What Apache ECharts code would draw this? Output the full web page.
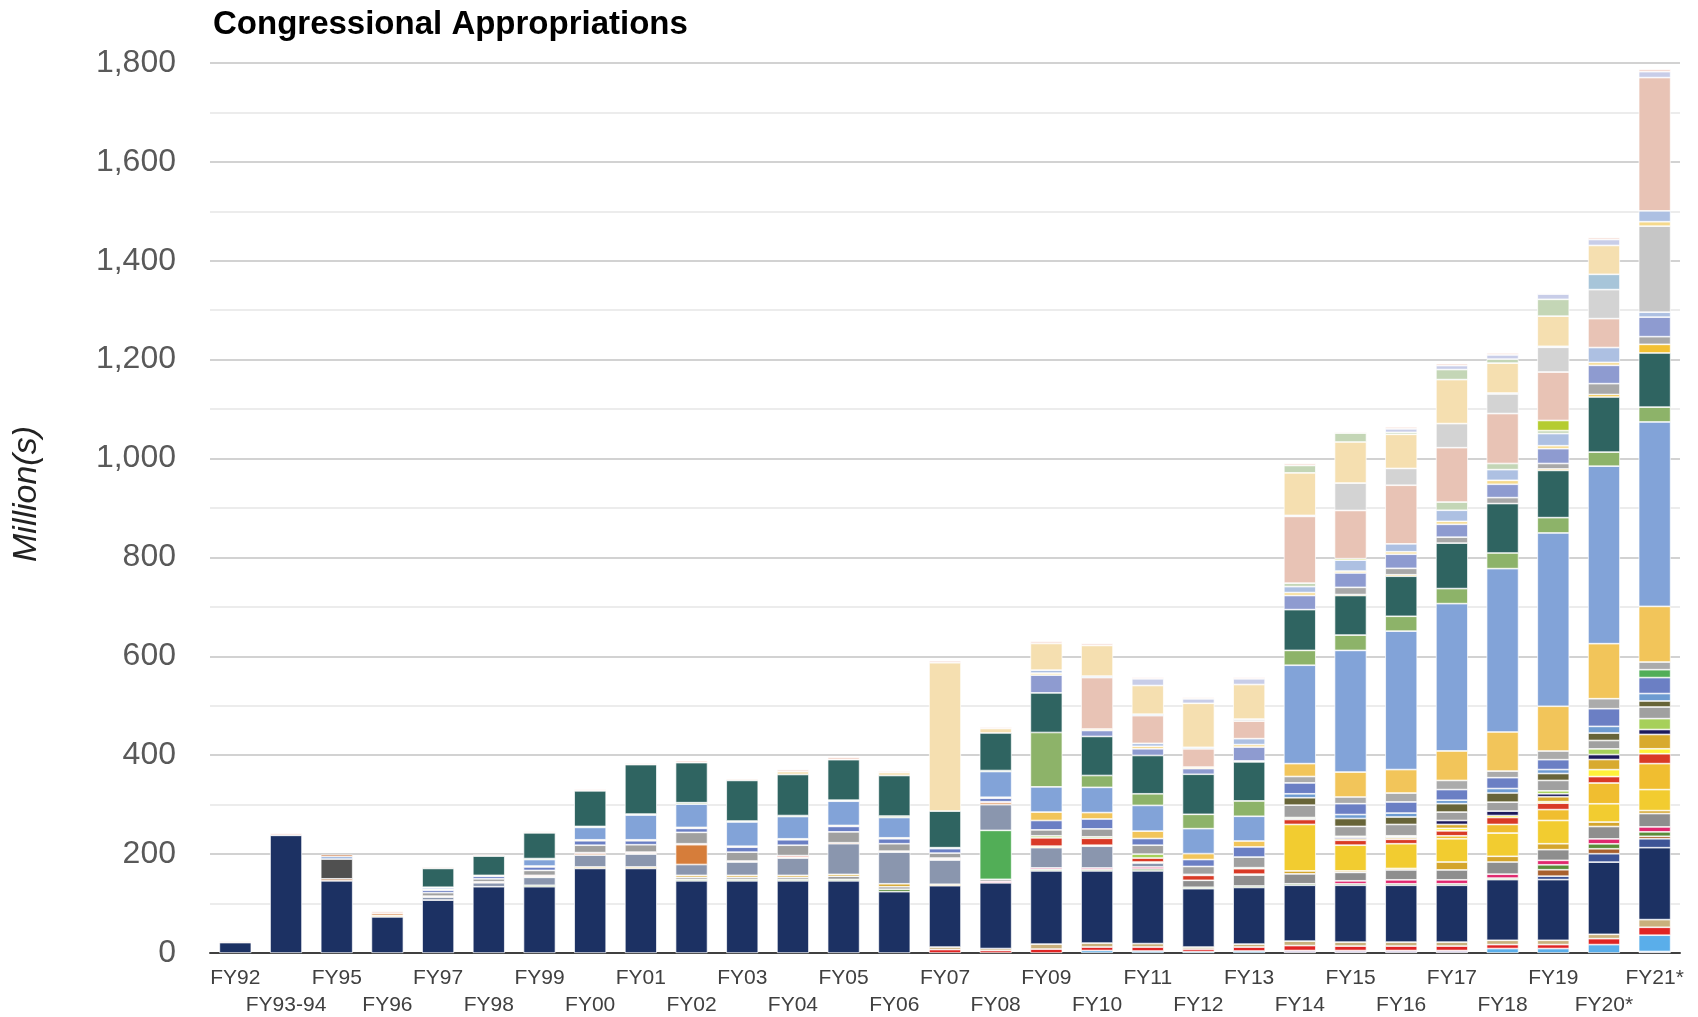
<!DOCTYPE html>
<html>
<head>
<meta charset="utf-8">
<script src="https://cdn.jsdelivr.net/npm/echarts@6/dist/echarts.min.js"></script>
<style>
html,body{margin:0;padding:0;background:#fff;}
#chart{width:1698px;height:1017px;}
</style>
</head>
<body>
<div id="chart"></div>
<script>
const categories = ['FY92','FY93-94','FY95','FY96','FY97','FY98','FY99','FY00','FY01','FY02','FY03','FY04','FY05','FY06','FY07','FY08','FY09','FY10','FY11','FY12','FY13','FY14','FY15','FY16','FY17','FY18','FY19','FY20*','FY21*'];
const yTicks = [0,200,400,600,800,1000,1200,1400,1600,1800];

// stacked segments, bottom to top (values in millions)
const lavBot      = [0,0,0,0,0,0,0,0,0,0, 0,0,0,0,0,0,0,0,0,0, 0,5,5,5,5,0,0,0,3];
const sky         = [0,0,0,0,0,0,0,0,0,0, 0,0,0,0,0,0,0,5,4,3, 4,0,0,0,0,9,9,17,33];
const redBot      = [0,0,0,0,0,0,0,0,0,0, 0,0,0,0,7,5,8,7,8,5, 8,10,9,9,9,8,8,12,16];
const tanBot      = [0,0,0,0,0,0,0,0,0,0, 0,0,0,0,5,4,10,8,7,4, 6,9,8,8,8,8.7,8.7,8.8,15.5];
const navy        = [21,238,146,73,107,134,134,171,171,146, 146,146,146,124,124,133,148,146,147,118, 114.5,113,115,115,115,122.7,122.7,146,145.5];
const slate       = [0,0,0,0,0,0,0,0,0,0, 0,0,0,0,0,0,0,0,0,0, 0,0,0,0,0,0,7,17,18];
const brown       = [0,0,4,0,0,0,0,0,0,0, 0,0,0,0,0,0,0,0,0,0, 0,0,0,0,0,0,13,10,5];
const green2      = [0,0,0,0,0,0,3,0,0,3, 3,3,3,5,0,0,3,3,4,3, 3,3,3,3,3,3,10,10,9];
const magenta     = [0,0,0,0,0,0,0,0,0,0, 0,0,0,0,0,3,3,3,4,0, 0,0,6,8,8,8,9,10,10];
const grayLow     = [0,0,0,0,0,0,0,0,0,4, 4,4,6,5,0,4,0,0,0,14, 22,20,17,20,20,24.6,21.6,25,27];
const goldDark    = [0,0,0,3,0,0,0,3,3,4, 4,4,4,6,3,0,0,0,0,0, 2,6,3,3,16,11.6,12,9,6];
const brightGreen = [0,0,0,0,0,0,0,0,0,0, 0,0,0,0,0,99,0,0,0,0, 0,0,0,0,0,0,0,0,0];
const grayBlue    = [0,0,0,0,6,8,16,24,26,22, 27,35,62,64,49,52,41,44,8,0, 0,0,0,0,0,0,0,0,0];
const darkGray    = [0,0,40,0,0,0,0,0,0,0, 0,0,0,0,0,0,0,0,0,0, 0,0,0,0,0,0,0,0,0];
const orange      = [0,0,0,4,2,2,2,3,2,40, 2,2,2,2,2,4,0,0,0,0, 0,0,0,0,0,0,0,0,0];
const yellow      = [0,0,0,0,0,0,0,0,0,0, 0,0,0,0,0,0,3,2,2,0, 0,94,52,50,47,47,47,37,42.5];
const goldMid     = [0,0,0,0,0,0,0,0,0,0, 0,0,0,0,0,0,0,0,0,0, 0,0,0,0,6,17.4,22,42,52.5];
const red         = [0,0,0,0,0,0,2,2,2,2, 0,3,0,0,2,2,17,14,8,10, 11,10,10,9,10,14,13,13,20];
const brightYellow= [0,0,0,0,0,0,0,0,0,0, 0,0,0,0,0,0,0,0,0,0, 0,0,0,0,5,4,3,14,10];
const goldDark2   = [0,0,0,0,0,0,0,0,0,0, 0,0,0,0,0,0,0,0,0,0, 0,0,3,3,8,0,10,20.5,29];
const darkNavy    = [0,0,0,0,0,0,0,0,0,0, 0,0,0,0,0,0,0,0,0,2, 0,2,3,2,8,9,6,10,10];
const lightGreen  = [0,0,0,0,0,0,0,0,0,0, 0,0,0,0,0,0,4,3,8,0, 2,2,2,2,0,0,6,11.5,22];
const gray        = [0,0,0,0,7,6,10,15,15,23, 18,21,22,15,10,0,12,16,18,16, 21.5,25,20,23,17,18,21,17,23.5];
const olive       = [0,0,0,0,0,0,0,0,0,0, 0,0,0,0,0,0,0,0,0,0, 0,15,16,15,17,18.6,14,15,12.2];
const steel       = [0,0,0,0,0,0,0,0,0,0, 0,0,0,0,0,0,0,0,0,0, 0,8,8,8,7,9,8,13.5,15];
const medBlue     = [0,0,0,0,5,5,7,9,8,8, 10,11,11,10,9,7,19,20,13.5,14, 20.5,22,22,22.5,21.5,22,20,35.8,32.3];
const green3      = [0,0,0,0,0,0,0,0,0,0, 0,0,0,0,0,0,0,0,0,0, 0,0,0,0,0,0,0,0,16];
const grayMid     = [0,0,0,0,0,0,0,0,0,0, 0,0,0,0,0,0,0,0,0,0, 0,13,13.5,18,18.5,13.4,17.5,20.2,15.5];
const gold        = [0,0,0,0,2,2,2,2,2,2, 2,2,2,2,0,2,17,13,15,12, 12,26,50.5,47.5,59.6,79,90.5,111.3,112.5];
const lightBlue   = [0,0,5,0,3,0,13,25,50,47, 49,45,49,41,2,52,51,51,52,50.5, 50,199,246,280,298,330.4,350.5,359,373];
const green       = [0,0,0,0,1,0,2,2,2,3, 2,2,2,3,0,2,110,24,23.5,29, 31,30,31,30,30.4,31.6,31,28.4,30];
const teal        = [0,0,0,0,38,39,52,72,100,81, 82,83,82,82,74,76,80,79,77.5,81, 79,82.5,80,81,92,100,95.5,111.5,109.5];
const yellowThin  = [0,0,0,0,0,0,0,0,0,0, 0,0,0,0,0,0,0,0,0,0, 0,0,2,3,0,0,3,5,17.5];
const grayHi      = [0,0,0,0,0,0,0,0,0,0, 0,0,0,0,0,0,0,0,0,0, 2,0,14.5,13,12,12,11,22,15.5];
const periwinkle  = [0,0,0,0,0,0,0,0,0,0, 0,0,0,0,0,0,36,12,13.5,11.5, 28,28.5,29,28.5,26,27,30,37,39.5];
const paleYellow  = [0,0,0,0,0,0,0,0,0,0, 0,0,0,0,0,0,4,3,5,3, 5,6,4,5,6,8,6,6,0];
const lightSteel  = [0,0,0,0,0,0,0,0,0,0, 0,0,0,0,0,0,6,0,6,0, 12,12,22,16,22.4,21.6,24.5,30,10];
const sageLow     = [0,0,0,0,0,0,0,0,0,0, 0,0,0,0,0,0,0,0,0,0, 0,7,0,0,16.6,12.4,6,0,0];
const lime        = [0,0,0,0,0,0,0,0,0,0, 0,0,0,0,0,0,0,0,0,0, 0,0,3,0,0,0,20.5,0,0];
const silver      = [0,0,0,0,0,0,0,0,0,0, 0,0,0,0,0,0,0,0,0,0, 0,0,0,0,0,0,0,0,174];
const paleYellow2 = [0,0,0,0,0,0,0,0,0,0, 0,0,0,0,0,0,0,0,0,0, 0,0,0,0,0,0,0,0,9];
const powder      = [0,0,0,0,0,0,0,0,0,0, 0,0,0,0,0,0,0,0,0,0, 0,0,0,0,0,0,0,0,22];
const salmon      = [0,0,0,0,0,0,0,0,0,0, 0,0,0,0,0,0,0,104,56,37, 35.5,135,97.5,118.5,110,101,98,58.5,269.5];
const lightGray   = [0,0,0,0,0,0,0,0,0,0, 0,0,0,0,0,0,0,0,0,0, 4,0,55.5,34,48.7,39.6,50,58.7,0];
const steelLight  = [0,0,0,0,0,0,0,0,0,0, 0,0,0,0,0,0,0,3,3,3, 0,2,0,0,0,2,2,30.9,0];
const wheat       = [0,0,0,0,0,0,0,0,0,0, 0,6,0,6,300,9,54,62,58,89, 70,86,83,69,89,60.4,61,58.4,0];
const sage        = [0,0,0,0,0,0,0,0,0,0, 0,0,0,0,0,0,0,0,0,0, 0,15,18,4,20.3,8,34,0,0];
const lavender    = [0,0,0,0,0,0,0,0,0,0, 0,0,0,0,0,0,0,0,13.5,9, 11.5,0,0,7,8,8.5,10.6,12,12];
const topOrange   = [0,0,4,0,0,0,0,0,0,0, 0,0,0,0,0,0,0,0,0,0, 0,0,0,0,0,0,0,0,0];
const topPink     = [3,4,0,4,3,3,3,3,3,4, 3,4,5,3,4,3,4,4,3,3, 3,4,2.5,4,4,4,2,4,5];

const layers = [
  ['lavBot', lavBot, '#DCD3EC'],
  ['sky', sky, '#5AAEEA'],
  ['redBot', redBot, '#E02424'],
  ['tanBot', tanBot, '#C9B07C'],
  ['navy', navy, '#1C3163'],
  ['slate', slate, '#3D5496'],
  ['brown', brown, '#A8602E'],
  ['green2', green2, '#5A8C3A'],
  ['magenta', magenta, '#E0286E'],
  ['grayLow', grayLow, '#8E8E8E'],
  ['goldDark', goldDark, '#D4A52C'],
  ['brightGreen', brightGreen, '#52AE57'],
  ['grayBlue', grayBlue, '#8A96AE'],
  ['darkGray', darkGray, '#505050'],
  ['orange', orange, '#D67D3A'],
  ['yellow', yellow, '#F2CC30'],
  ['goldMid', goldMid, '#F0BE30'],
  ['red', red, '#D93A26'],
  ['brightYellow', brightYellow, '#FFF23A'],
  ['goldDark2', goldDark2, '#D8AA2E'],
  ['darkNavy', darkNavy, '#1D1A5C'],
  ['lightGreen', lightGreen, '#A6D05A'],
  ['gray', gray, '#A0A0A0'],
  ['olive', olive, '#676438'],
  ['steel', steel, '#6D9BD1'],
  ['medBlue', medBlue, '#6B7FC4'],
  ['green3', green3, '#52AE57'],
  ['grayMid', grayMid, '#ABABAB'],
  ['gold', gold, '#F2C55A'],
  ['lightBlue', lightBlue, '#82A3D8'],
  ['green', green, '#8DB369'],
  ['teal', teal, '#2F6461'],
  ['yellowThin', yellowThin, '#F2C033'],
  ['grayHi', grayHi, '#A8A8A8'],
  ['periwinkle', periwinkle, '#8E9BD0'],
  ['paleYellow', paleYellow, '#F5D98C'],
  ['lightSteel', lightSteel, '#ADC0E2'],
  ['sageLow', sageLow, '#C4D6B6'],
  ['lime', lime, '#B5CC30'],
  ['silver', silver, '#C6C6C6'],
  ['paleYellow2', paleYellow2, '#F5D98C'],
  ['powder', powder, '#ADC0E2'],
  ['salmon', salmon, '#E8C3B5'],
  ['lightGray', lightGray, '#D3D3D3'],
  ['steelLight', steelLight, '#A7C5D9'],
  ['wheat', wheat, '#F5DFB0'],
  ['sage', sage, '#C4D6B6'],
  ['lavender', lavender, '#C8CDE8'],
  ['topOrange', topOrange, '#C8703A'],
  ['topPink', topPink, '#F4D5CC']
];

const chart = echarts.init(document.getElementById('chart'), null, {renderer: 'canvas'});
const FONT = '"Liberation Sans", Arial, sans-serif';

const series = layers.map(([name, vals, color]) => ({
  name: name,
  type: 'bar',
  stack: 'total',
  barWidth: 32,
  data: vals.map(v => (v === 0 ? null : v)),
  itemStyle: { color: color, borderColor: '#ffffff', borderWidth: 0.7 },
  emphasis: { disabled: true },
  silent: true
}));

chart.setOption({
  animation: false,
  backgroundColor: '#ffffff',
  title: {
    text: 'Congressional Appropriations',
    left: 208,
    top: 3,
    textStyle: { fontFamily: FONT, fontSize: 33, fontWeight: 'bold', color: '#000000' }
  },
  grid: { left: 210, right: 18, top: 63, bottom: 64, containLabel: false, outerBoundsMode: 'none' },
  xAxis: {
    type: 'category',
    data: categories,
    axisTick: { show: false },
    axisLine: { lineStyle: { color: '#404040', width: 2 } },
    axisLabel: {
      interval: 0,
      margin: 12,
      fontFamily: FONT,
      fontSize: 21,
      color: '#404040',
      lineHeight: 27,
      formatter: (val, idx) => (idx % 2 === 1 ? '\n' + val : val)
    }
  },
  yAxis: {
    type: 'value',
    min: yTicks[0],
    max: yTicks[yTicks.length - 1],
    interval: 200,
    axisLine: { show: false },
    axisTick: { show: false },
    axisLabel: {
      margin: 34,
      fontFamily: FONT,
      fontSize: 32,
      color: '#595959',
      formatter: v => v.toLocaleString('en-US')
    },
    splitLine: { lineStyle: { color: '#d2d2d2', width: 2 } },
    minorTick: { show: false, splitNumber: 2 },
    minorSplitLine: { show: true, lineStyle: { color: '#ececec', width: 2 } }
  },
  graphic: [{
    type: 'text',
    x: 27,
    y: 494,
    rotation: Math.PI / 2,
    style: {
      text: 'Million(s)',
      font: 'italic 34px "Liberation Sans", Arial, sans-serif',
      fill: '#222222',
      align: 'center',
      verticalAlign: 'middle'
    }
  }],
  series: series
});
</script>
</body>
</html>
